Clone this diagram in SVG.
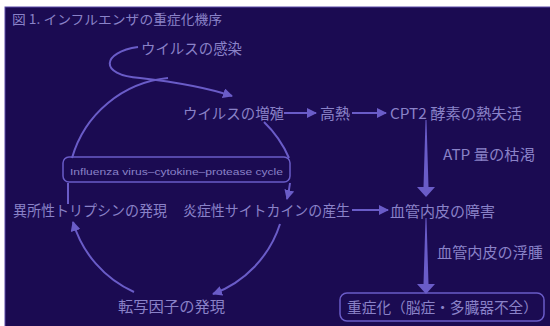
<svg xmlns="http://www.w3.org/2000/svg" width="550" height="326" viewBox="0 0 550 326">
<defs>
<marker id="ah" viewBox="0 0 10 10" refX="9" refY="5" markerWidth="5" markerHeight="5" orient="auto" markerUnits="strokeWidth">
<path d="M0,0 L10,5 L0,10 z" fill="#6a5cc8"/>
</marker>
<style>
.t{font-family:"Noto Sans CJK JP","Liberation Sans",sans-serif;fill:#8a82c8;font-size:14.5px}
.c{fill:none;stroke:#6a5cc8;stroke-width:2}
.bx{fill:none;stroke:#6a5cc8;stroke-width:1.5}
.va{fill:#6a5cc8}
</style>
</defs>
<rect x="0" y="0" width="550" height="326" fill="#ffffff"/>
<rect x="5" y="7" width="546" height="320" fill="#1b0b52" stroke="#5a4aa8" stroke-width="1"/>
<text class="t" x="12" y="24" style="font-size:13px" textLength="210" lengthAdjust="spacingAndGlyphs">図 1. インフルエンザの重症化機序</text>

<g id="connectors">
<path class="c" d="M138,47 C102,52 98,75 140,78 C175,82 205,87 232,96" marker-end="url(#ah)"/>
<path class="c" d="M72,158 A111,111 0 0 1 168,78"/>
<path class="c" d="M264,122 A111,111 0 0 1 289,158"/>
<path class="c" d="M290,183 A111,111 0 0 1 287,199" marker-end="url(#ah)"/>
<path class="c" d="M68,183 L68,204"/>
<path class="c" d="M280,224 A111,111 0 0 1 213,294" marker-end="url(#ah)"/>
<path class="c" d="M134,292 A111,111 0 0 1 73,222" marker-end="url(#ah)"/>
<path class="c" d="M284,113 L316,113" marker-end="url(#ah)"/>
<path class="c" d="M352,113 L386,113" marker-end="url(#ah)"/>
<path class="c" d="M352,210 L388,210" marker-end="url(#ah)"/>
<polygon class="va" points="425.5,120 426.5,120 428.5,187 435,187 426,197 417,187 423.5,187"/>
<polygon class="va" points="425.5,218 426.5,218 428.5,284 435,284 426,294 417,284 423.5,284"/>
</g>

<g id="n-infection"><text class="t" x="141" y="54" textLength="101" lengthAdjust="spacingAndGlyphs">ウイルスの感染</text></g>
<g id="n-proliferation"><text class="t" x="183" y="119" textLength="101" lengthAdjust="spacingAndGlyphs">ウイルスの増殖</text></g>
<g id="n-fever"><text class="t" x="320" y="119" textLength="30" lengthAdjust="spacingAndGlyphs">高熱</text></g>
<g id="n-cpt2"><text class="t" x="390" y="119" textLength="132" lengthAdjust="spacingAndGlyphs">CPT2 酵素の熱失活</text></g>
<g id="n-atp"><text class="t" x="443" y="160" textLength="92" lengthAdjust="spacingAndGlyphs">ATP 量の枯渇</text></g>
<g id="n-cycle">
<rect class="bx" x="63" y="157" width="227" height="25" rx="6"/>
<text class="t" x="70" y="175" style="font-family:'Liberation Sans',sans-serif;font-size:9.5px" textLength="213" lengthAdjust="spacingAndGlyphs">Influenza virus–cytokine–protease cycle</text>
</g>
<g id="n-trypsin"><text class="t" x="13" y="216" textLength="154" lengthAdjust="spacingAndGlyphs">異所性トリプシンの発現</text></g>
<g id="n-cytokine"><text class="t" x="183" y="216" textLength="167" lengthAdjust="spacingAndGlyphs">炎症性サイトカインの産生</text></g>
<g id="n-endothelial"><text class="t" x="390" y="217" textLength="105" lengthAdjust="spacingAndGlyphs">血管内皮の障害</text></g>
<g id="n-edema"><text class="t" x="437" y="258" textLength="106" lengthAdjust="spacingAndGlyphs">血管内皮の浮腫</text></g>
<g id="n-transcription"><text class="t" x="118" y="312" textLength="107" lengthAdjust="spacingAndGlyphs">転写因子の発現</text></g>
<g id="n-severe">
<rect class="bx" x="340" y="293" width="204" height="28" rx="7"/>
<text class="t" x="347" y="313" textLength="191" lengthAdjust="spacingAndGlyphs">重症化（脳症・多臓器不全）</text>
</g>
</svg>
